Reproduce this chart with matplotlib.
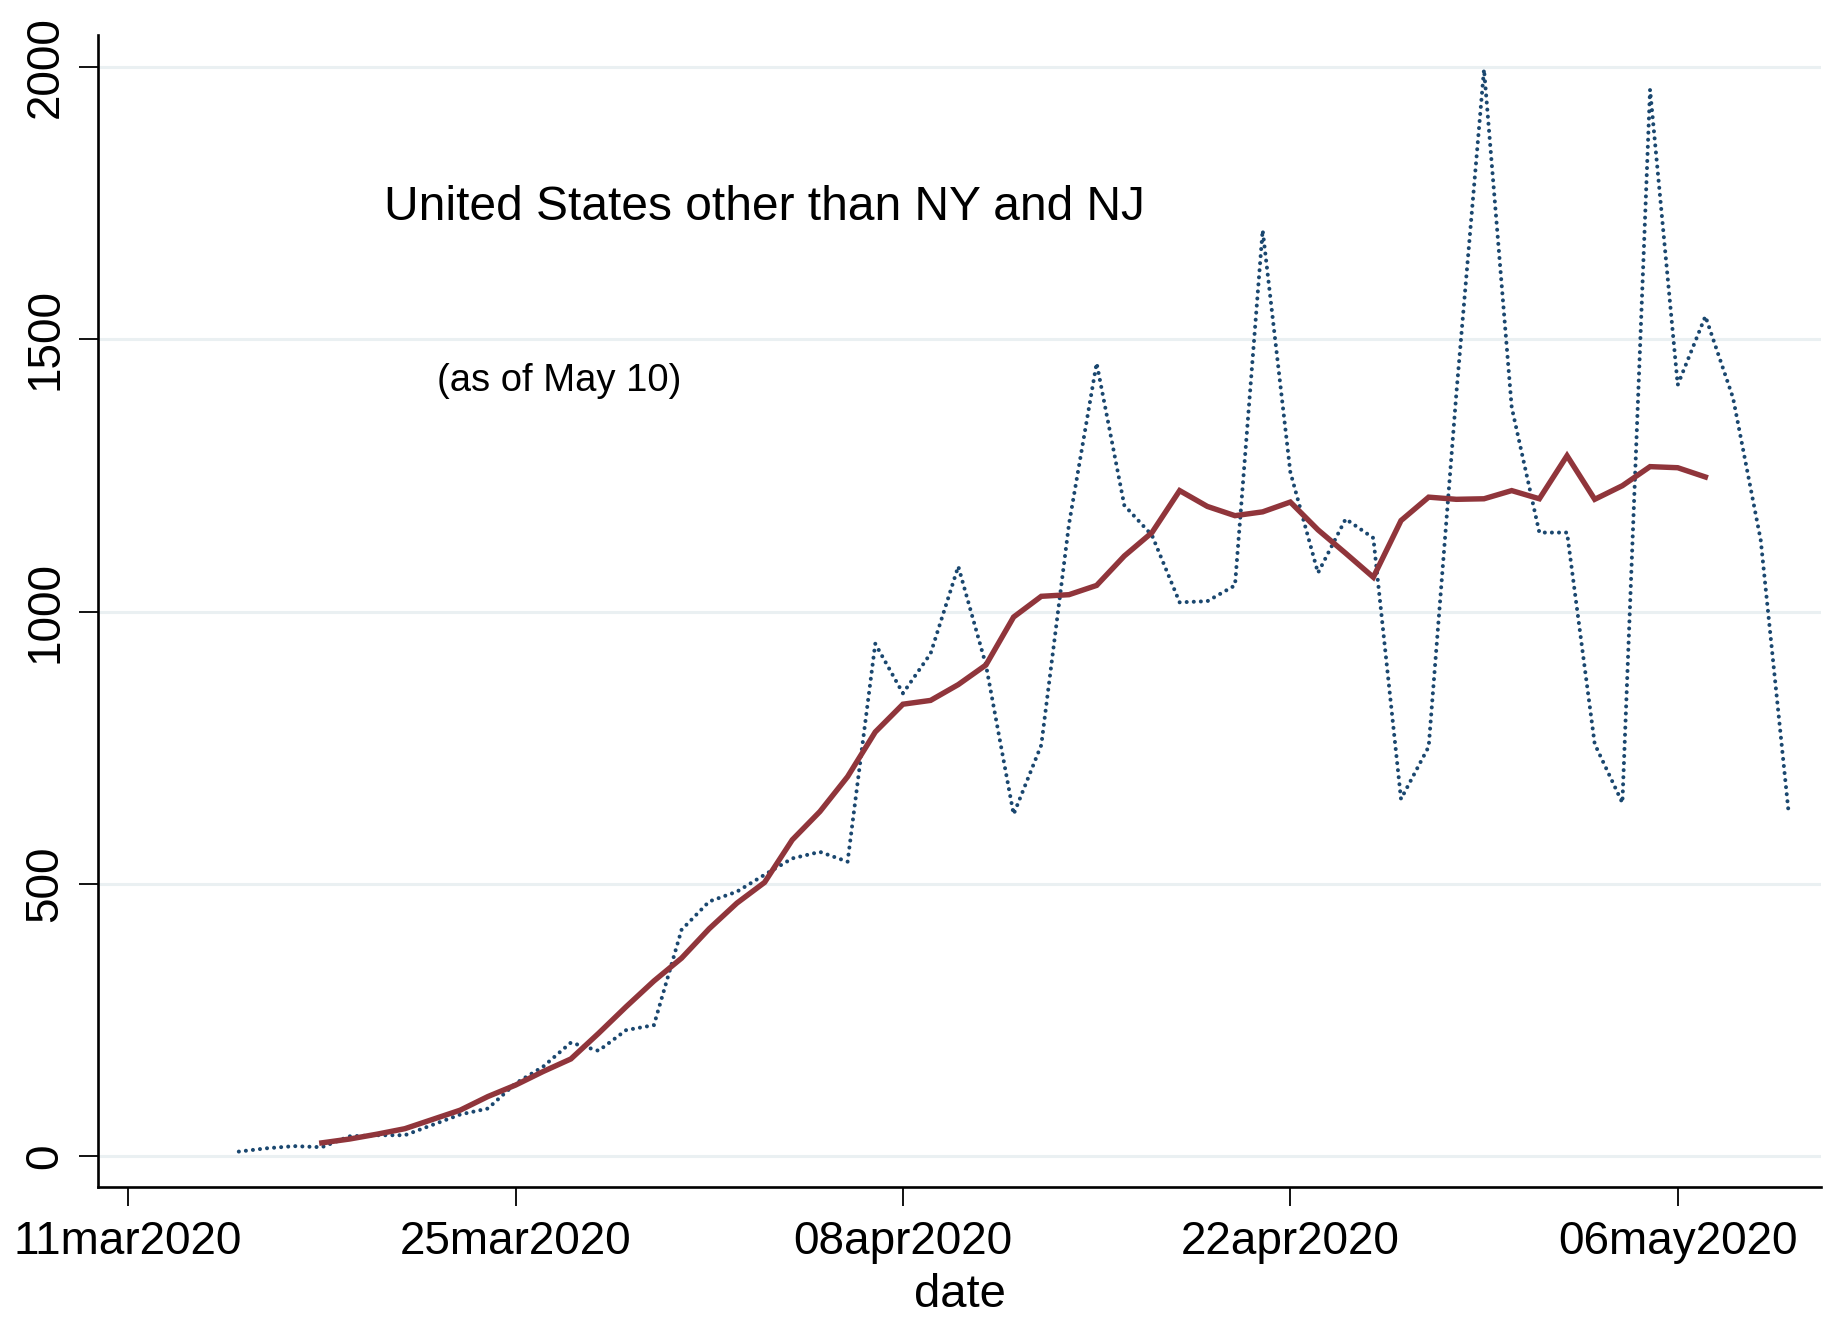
import numpy as np
import matplotlib
matplotlib.use("Agg")
import matplotlib.pyplot as plt
import matplotlib.dates as mdates

plt.rcParams['font.family'] = ['Liberation Sans', 'DejaVu Sans']

# daily new deaths, US minus NY and NJ
daily_start = "2020-03-15"
daily = [9, 15, 19, 17, 37, 39, 39, 58, 77, 88,
         134, 165, 209, 194, 232, 241, 416, 468, 486, 517,
         547, 559, 541, 941, 850, 923, 1083, 902, 628, 755,
         1160, 1456, 1195, 1140, 1017, 1019, 1048, 1700, 1256, 1071,
         1170, 1135, 656, 752, 1400, 1995, 1375, 1145, 1145, 757,
         649, 1958, 1416, 1542, 1392, 1131, 635]

# 7 day moving average
avg_start = "2020-03-18"
avg7 = [25, 32, 41, 51, 68, 85, 110, 131, 156, 179,
        226, 275, 322, 364, 418, 465, 503, 581, 633, 697,
        779, 830, 837, 866, 902, 990, 1028, 1031, 1048, 1102,
        1145, 1222, 1193, 1176, 1183, 1201, 1150, 1107, 1063, 1167,
        1210, 1206, 1207, 1222, 1207, 1286, 1206, 1231, 1266, 1264,
        1247]

tick_dates = ["2020-03-11", "2020-03-25", "2020-04-08", "2020-04-22", "2020-05-06"]
tick_labels = ["11mar2020", "25mar2020", "08apr2020", "22apr2020", "06may2020"]
yticks = [0, 500, 1000, 1500, 2000]

title = "United States other than NY and NJ"
subtitle = "(as of May 10)"

d1 = np.datetime64(daily_start) + np.arange(len(daily))
d2 = np.datetime64(avg_start) + np.arange(len(avg7))

navy = "#1a476f"
maroon = "#90353b"
grid_col = "#eaf0f2"

fig = plt.figure(figsize=(18.28, 13.23), dpi=100)
ax = fig.add_axes([0.0536, 0.1028, 0.9426, 0.8707])

for y in yticks:
    ax.axhline(y, color=grid_col, lw=2.2, zorder=0)

ax.plot(d1, daily, color=navy, lw=2.9, linestyle=(0, (0.01, 1.75)),
        dash_capstyle='round', zorder=2)
ax.plot(d2, avg7, color=maroon, lw=3.9, solid_joinstyle='miter', zorder=3)

t0 = np.datetime64("2020-03-11")
ax.set_xlim(mdates.date2num(t0) - 1.09, mdates.date2num(t0) + 61.18)
ax.set_ylim(-56, 2058)

ax.set_xticks([mdates.date2num(np.datetime64(t)) for t in tick_dates])
ax.set_xticklabels(tick_labels)
ax.set_yticks(yticks)
ax.set_yticklabels([str(v) for v in yticks], rotation=90, va='center')

for s in ['top', 'right']:
    ax.spines[s].set_visible(False)
for s in ['left', 'bottom']:
    ax.spines[s].set_linewidth(1.9)
    ax.spines[s].set_color('black')

ax.tick_params(axis='both', direction='out', length=14, width=1.3,
               labelsize=33, pad=6)
ax.tick_params(axis='x', pad=10)
ax.tick_params(axis='y', pad=8)
ax.set_xlabel("date", fontsize=34, labelpad=6)

ax.text(mdates.date2num(t0) + 9.23, 1741, title, fontsize=34.5, va='center', ha='left')
ax.text(mdates.date2num(t0) + 11.16, 1424, subtitle, fontsize=27.5, va='center', ha='left')

fig.savefig("out.png", dpi=100)
